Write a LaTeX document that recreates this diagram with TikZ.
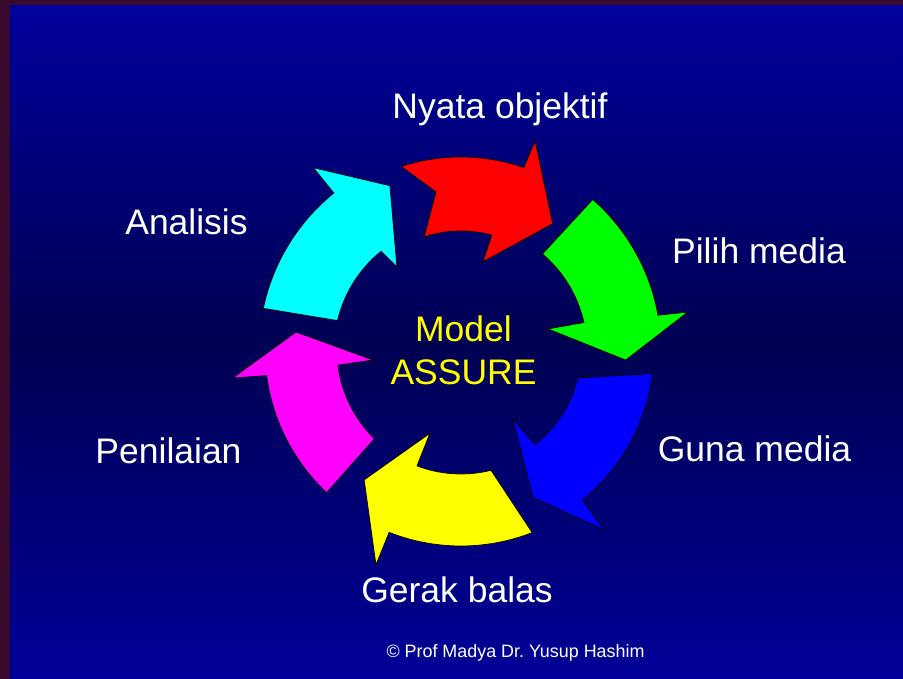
\documentclass[tikz,border=0pt]{standalone}
\usepackage{fontspec}
\setmainfont{Liberation Sans}
\usepackage{xcolor}
\definecolor{framepurple}{HTML}{3A0A2C}
\definecolor{bgtop}{HTML}{00009C}
\definecolor{bgmid}{HTML}{000052}
\definecolor{bgbottom}{HTML}{000098}
\definecolor{assure}{HTML}{FFFF00}
\definecolor{arrowred}{HTML}{FF0000}
\definecolor{arrowgreen}{HTML}{00FF00}
\definecolor{arrowblue}{HTML}{0000FF}
\definecolor{arrowyellow}{HTML}{FFFF00}
\definecolor{arrowmagenta}{HTML}{FF00FF}
\definecolor{arrowcyan}{HTML}{00FFFF}

\begin{document}
\begin{tikzpicture}[x=1pt, y=1pt,
                    ringarrow/.style={draw=black, line width=0.7pt, line join=miter},
                    ringlabel/.style={text=white, font=\fontsize{35.5}{40}\selectfont, anchor=base, inner sep=0pt}]
                      % frame and background, origin at the centre of the ring
                      \useasboundingbox (-461,-329) rectangle (442,350);
                      \fill[framepurple] (-461,-329) rectangle (442,350);
                      \shade[top color=bgtop, bottom color=bgbottom, middle color=bgmid] (-451,-329) rectangle (442,344);

                      % the six curved arrows
                      \draw[ringarrow, fill=arrowred] (108:193) arc[start angle=108, end angle=71, radius=193pt] -- (70.5:222) -- (54:156) -- (76:91) -- (75:119) arc[start angle=75, end angle=108, radius=119pt] -- (99:160) -- cycle;
                      \draw[ringarrow, fill=arrowgreen] (48.8:200) arc[start angle=48.8, end angle=10, radius=200pt] -- (9.5:230) -- (-3.5:165) -- (13.6:89.5) -- (12.6:126) arc[start angle=12.6, end angle=49.7, radius=126pt] -- cycle;
                      \draw[ringarrow, fill=arrowblue] (-7:193) arc[start angle=-7, end angle=-51, radius=193pt] -- (-51.5:230) -- (-64:164) -- (-53:86) -- (-52:120) arc[start angle=-52, end angle=-13.5, radius=120pt] -- cycle;
                      \draw[ringarrow, fill=arrowyellow] (-68.7:196) arc[start angle=-68.7, end angle=-111.5, radius=196pt] -- (-111.6:231) -- (-126.7:162) -- (-110.5:89) -- (-110.8:124) arc[start angle=-110.8, end angle=-76, radius=124pt] -- cycle;
                      \draw[ringarrow, fill=arrowmagenta] (-133.3:196) arc[start angle=-133.3, end angle=-172.5, radius=196pt] -- (-173:230) -- (-186.2:166) -- (-173.5:88.6) -- (-173:124) arc[start angle=-173, end angle=-134.3, radius=124pt] -- cycle;
                      \draw[ringarrow, fill=arrowcyan] (168.1:202) arc[start angle=168.1, end angle=129, radius=202pt] -- (129:234.6) -- (113.4:179) -- (127.6:105) -- (129:127) arc[start angle=129, end angle=166.6, radius=127pt] -- cycle;

                      % labels
                      \node[text=assure, font=\fontsize{35.5}{43}\selectfont, align=center, inner sep=0pt] (model) at (2.5,0) {Model\\ASSURE};
                      \node[ringlabel] (nyata) at (39,231) {Nyata objektif};
                      \node[ringlabel] (pilih) at (298,86) {Pilih media};
                      \node[ringlabel] (guna) at (293.5,-112) {Guna media};
                      \node[ringlabel] (gerak) at (-4,-253) {Gerak balas};
                      \node[ringlabel] (penilaian) at (-292.5,-114) {Penilaian};
                      \node[ringlabel] (analisis) at (-274.5,115) {Analisis};
                      \node[ringlabel, font=\fontsize{17.9}{20}\selectfont] (credit) at (54.5,-308) {© Prof Madya Dr.\ Yusup Hashim};

                    \end{tikzpicture}
\end{document}
